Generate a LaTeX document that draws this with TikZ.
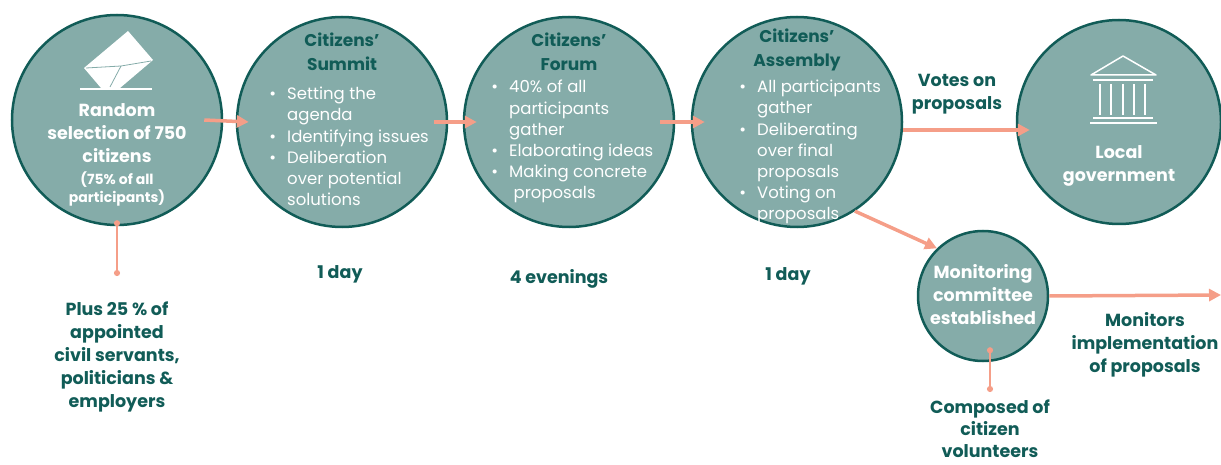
\documentclass[tikz,border=0pt]{standalone}
\usepackage{fontspec}
\setmainfont{Poppins}
\usetikzlibrary{arrows.meta}
\definecolor{tealfill}{HTML}{85ACA9}
\definecolor{tealdark}{HTML}{115C57}
\definecolor{salmon}{HTML}{F59E88}
\newcommand{\dotitem}{\llap{\textbullet\hspace{11pt}}}

\begin{document}
\begin{tikzpicture}[x=1pt,y=-1pt,
    stage/.style={circle, draw=tealdark, line width=2.5pt, fill=tealfill, inner sep=0pt, minimum size=210pt},
    title/.style={text=tealdark, font=\bfseries\fontsize{17}{24}\selectfont, align=center, inner sep=0pt, anchor=north},
    inside/.style={text=white, font=\bfseries\fontsize{17.5}{23}\selectfont, align=center, inner sep=0pt, anchor=north},
    bullets/.style={text=white, font=\fontsize{16.5}{21.2}\selectfont, align=left, inner sep=0pt, anchor=north west},
    note/.style={text=tealdark, font=\bfseries\fontsize{17.5}{23}\selectfont, align=center, inner sep=0pt, anchor=north},
    flow/.style={salmon, line width=3.5pt, -{Triangle[length=12pt,width=12pt]}},
    link/.style={salmon, line width=2pt, {Circle[length=6pt]}-{Circle[length=6pt]}}]
    \useasboundingbox (0,0) rectangle (1221,465);

    % Draw the circles
    \node[stage] (select) at (117,120) {};
    \node[stage] (summit) at (342,122) {};
    \node[stage] (forum) at (569,122) {};
    \node[stage] (assembly) at (797,122) {};
    \node[stage, minimum size=204pt] (gov) at (1119,122) {};
    \node[stage, minimum size=130pt] (monitor) at (983,296) {};

    % Envelope
    \fill[white] (84,68) -- (128,31) -- (153,60) -- (120,88) -- (101,88) -- cycle;
    \draw[tealfill, line width=0.8pt] (86,68) -- (121,66) -- (151,61) (121,66) -- (110,87);
    \draw[white, line width=2pt] (80,89) -- (152,89);

    % Temple
    \draw[white, line width=1.5pt, line join=round] (1091,75) -- (1123,56) -- (1156,75) -- cycle;
    \draw[white, line width=2pt] (1093,80) -- (1153,80);
    \foreach \x in {1100,1111,1123,1134,1145}
        \draw[white, line width=2pt] (\x,84) -- (\x,115);
    \draw[white, line width=2pt] (1093,118) -- (1153,118);
    \draw[white, line width=2pt] (1090,123) -- (1157,123);

    % Add the labels
    \node[inside] (selecttext) at (117,103) {Random\\selection of 750\\citizens};
    \node[inside, font=\bfseries\fontsize{14}{18}\selectfont] (selectshare) at (117,172) {(75\% of all\\participants)};

    \node[title] (summittitle) at (342,33) {Citizens'\\Summit};
    \node[bullets] (summitlist) at (287,87) {\dotitem Setting the\\agenda\\\dotitem Identifying issues\\\dotitem Deliberation\\over potential\\solutions};

    \node[title] (forumtitle) at (569,33) {Citizens'\\Forum};
    \node[bullets] (forumlist) at (509,80) {\dotitem 40\% of all\\participants\\gather\\\dotitem Elaborating ideas\\\dotitem Making concrete\\\ proposals};

    \node[title] (assemblytitle) at (797,29) {Citizens'\\Assembly};
    \node[bullets] (assemblylist) at (757,80) {\dotitem All participants\\gather\\\dotitem Deliberating\\over final\\proposals\\\dotitem Voting on\\proposals};

    \node[inside] (govtext) at (1119,145) {Local\\government};
    \node[inside] (monitortext) at (983,264) {Monitoring\\committee\\established};

    \node[note] (plus) at (117,302) {Plus 25 \% of\\appointed\\civil servants,\\politicians \&\\employers};
    \node[note] (summitdays) at (340,265) {1 day};
    \node[note] (forumdays) at (559,269) {4 evenings};
    \node[note] (assemblydays) at (788,267) {1 day};
    \node[note] (votes) at (957,74) {Votes on\\proposals};
    \node[note] (monitors) at (1145,312) {Monitors\\implementation\\of proposals};
    \node[note, font=\bfseries\fontsize{17.5}{22}\selectfont] (composed) at (990,400) {Composed of\\citizen\\volunteers};

    % Arrows
    \coordinate (plusdot) at (117,276);
    \coordinate (composeddot) at (990,392);
    \coordinate (monitorend) at (1221,295);
    \draw[flow] ([xshift=-19pt]select.east) -- ([xshift=13pt]summit.west);
    \draw[flow] ([xshift=-14pt]summit.east) -- ([xshift=14pt]forum.west);
    \draw[flow] ([xshift=-15pt]forum.east) -- ([xshift=14pt]assembly.west);
    \draw[flow] ([yshift=-8pt]assembly.east) -- ([xshift=14pt,yshift=-8pt]gov.west);
    \draw[flow] (assembly.-57) -- (monitor.134);
    \draw[flow] (monitor.east) -- (monitorend);
    \draw[link] ([yshift=6pt]select.south) -- (plusdot);
    \draw[link] ([xshift=7pt,yshift=15pt]monitor.south) -- (composeddot);
\end{tikzpicture}
\end{document}
